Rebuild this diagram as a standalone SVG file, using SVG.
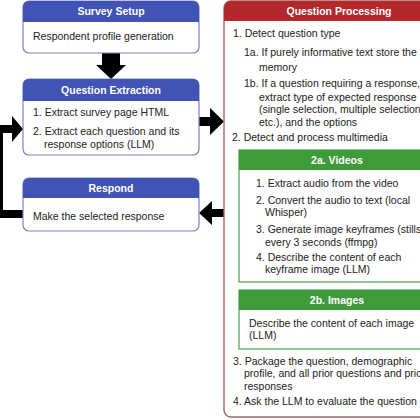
<svg xmlns="http://www.w3.org/2000/svg" width="420" height="420" viewBox="0 0 420 420">
<style>
.bbox{fill:#fff;stroke:#7f7fc4;stroke-width:1.2}
.bhead{fill:#4153b4}
.gbox{fill:#fff;stroke:#4f9e4a;stroke-width:1.2}
.ghead{fill:#3f9b3a}
.rbox{fill:#fff;stroke:#a06a66;stroke-width:1.4}
.rhead{fill:#b2282b}
.h{font-family:"Liberation Sans",Arial,sans-serif;font-size:10.5px;font-weight:bold;fill:#fff;text-anchor:middle}
.t{font-family:"Liberation Sans",Arial,sans-serif;font-size:10.5px;fill:#222}
.arr{fill:#000}
</style>
<rect width="420" height="420" fill="#fff"/>
<g id="connectors">
<polygon class="arr" points="102,53 120,53 120,65 126,65 111,79 96,65 102,65"/>
<polygon class="arr" points="199,117 210,117 210,108 224,121.5 210,135 210,126 199,126"/>
<polygon class="arr" points="224,209 212,209 212,201 199,213 212,225 212,217 224,217"/>
<polyline points="23,214 -1,214 -1,129 13,129" fill="none" stroke="#000" stroke-width="8"/>
<polygon class="arr" points="12,116 23,129 12,142"/>
</g>
<g id="survey-setup">
<rect class="bbox" x="23" y="1" width="176" height="52" rx="6"/>
<path class="bhead" d="M23,22 V7 a6,6 0 0 1 6,-6 H193 a6,6 0 0 1 6,6 V22 Z"/>
<text class="h" x="111" y="15">Survey Setup</text>
<text class="t" x="33" y="40">Respondent profile generation</text>
</g>
<g id="question-extraction">
<rect class="bbox" x="23" y="79" width="176" height="76" rx="6"/>
<path class="bhead" d="M23,101 V85 a6,6 0 0 1 6,-6 H193 a6,6 0 0 1 6,6 V101 Z"/>
<text class="h" x="111" y="93.5">Question Extraction</text>
<text class="t" x="33" y="116">1. Extract survey page HTML</text>
<text class="t" x="33" y="135">2. Extract each question and its</text>
<text class="t" x="44" y="148">response options (LLM)</text>
</g>
<g id="respond">
<rect class="bbox" x="23" y="178" width="176" height="53" rx="6"/>
<path class="bhead" d="M23,198 V184 a6,6 0 0 1 6,-6 H193 a6,6 0 0 1 6,6 V198 Z"/>
<text class="h" x="111" y="192">Respond</text>
<text class="t" x="33" y="220">Make the selected response</text>
</g>
<g id="question-processing">
<rect class="rbox" x="224" y="1" width="240" height="416" rx="7"/>
<path class="rhead" d="M224,21 V8 a7,7 0 0 1 7,-7 H464 V21 Z"/>
<text class="h" x="339" y="15">Question Processing</text>
<text class="t" x="233" y="37">1. Detect question type</text>
<text class="t" x="244" y="56">1a. If purely informative text store the text in</text>
<text class="t" x="259" y="71">memory</text>
<text class="t" x="244" y="87">1b. If a question requiring a response,</text>
<text class="t" x="259" y="101">extract type of expected response</text>
<text class="t" x="259" y="113">(single selection, multiple selection,</text>
<text class="t" x="259" y="126">etc.), and the options</text>
<text class="t" x="232" y="141">2. Detect and process multimedia</text>
<text class="t" x="233" y="365">3. Package the question, demographic</text>
<text class="t" x="244" y="377">profile, and all prior questions and prior</text>
<text class="t" x="244" y="390">responses</text>
<text class="t" x="233" y="405">4. Ask the LLM to evaluate the question</text>
</g>
<g id="videos">
<rect class="gbox" x="239" y="150" width="200" height="132"/>
<rect class="ghead" x="239" y="150" width="200" height="20"/>
<text class="h" x="337" y="164">2a. Videos</text>
<text class="t" x="256" y="187">1. Extract audio from the video</text>
<text class="t" x="256" y="204">2. Convert the audio to text (local</text>
<text class="t" x="265" y="216">Whisper)</text>
<text class="t" x="256" y="233">3. Generate image keyframes (stills)</text>
<text class="t" x="265" y="246">every 3 seconds (ffmpg)</text>
<text class="t" x="256" y="261">4. Describe the content of each</text>
<text class="t" x="265" y="273">keyframe image (LLM)</text>
</g>
<g id="images">
<rect class="gbox" x="239" y="290" width="200" height="59"/>
<rect class="ghead" x="239" y="290" width="200" height="20"/>
<text class="h" x="337" y="304">2b. Images</text>
<text class="t" x="249" y="327">Describe the content of each image</text>
<text class="t" x="249" y="339">(LLM)</text>
</g>
</svg>
